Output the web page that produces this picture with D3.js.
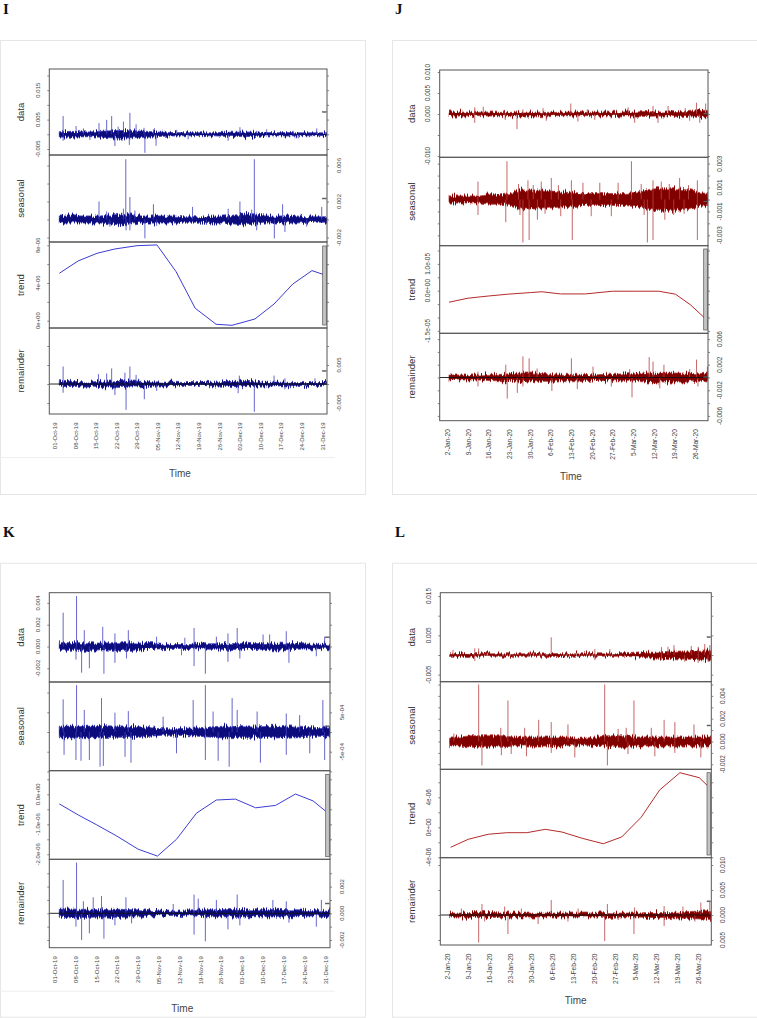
<!DOCTYPE html>
<html><head><meta charset="utf-8">
<script src="https://cdn.jsdelivr.net/npm/d3@7"></script>
<style>body{margin:0;background:#fff}svg{display:block}</style>
</head><body>
<svg id="c" width="757" height="1018"></svg>
<script>
// ---------- categories / tick labels ----------
const q4Days = [0,7,14,21,28,35,42,49,56,63,70,77,84,91];
const q4Labels = ["01-Oct-19","08-Oct-19","15-Oct-19","22-Oct-19","29-Oct-19","05-Nov-19","12-Nov-19","19-Nov-19","26-Nov-19","03-Dec-19","10-Dec-19","17-Dec-19","24-Dec-19","31-Dec-19"];
const q1Days = [0,7,14,21,28,35,42,49,56,63,70,77,84];
const q1Labels = ["2-Jan-20","9-Jan-20","16-Jan-20","23-Jan-20","30-Jan-20","6-Feb-20","13-Feb-20","20-Feb-20","27-Feb-20","5-Mar-20","12-Mar-20","19-Mar-20","26-Mar-20"];
const rowNames = ["data","seasonal","trend","remainder"];
const bandStep = 3.5; // days between band-envelope readings

// ---------- panel I (blue, Oct-Dec 2019) ----------
const iDataBand = [0.0009,0.0010,0.0009,0.0008,0.0010,0.0012,0.0013,0.0012,0.0011,0.0009,0.0007,0.0006,0.0005,0.0005,0.0005,0.0005,0.0007,0.0007,0.0008,0.0007,0.0006,0.0005,0.0006,0.0005,0.0005,0.0005,0.0005];
const iDataSpikes = [[1.3,0.0062],[5.7,0.0028],[8.2,0.002],[13.5,0.0038],[16.1,0.0049],[17.8,0.0062],[20,0.0026],[21.8,0.0043],[24,0.0073],[26.1,0.0034],[28.8,0.0022],[32,0.0017],[39.9,0.0015],[61.4,0.0024],[67.1,0.0012],[70.5,0.0017],[79.5,0.0012],[87.5,0.002],[1.3,-0.0022],[10.4,-0.0019],[18.9,-0.004],[23.8,-0.0036],[29.1,-0.0063],[32.9,-0.0039],[43.8,-0.0017],[57.4,-0.0022],[81.2,-0.0014]];
const iSeasonalBand = [0.0004,0.0004,0.0004,0.0004,0.0004,0.0005,0.0006,0.0005,0.0004,0.0004,0.0004,0.0004,0.0003,0.0003,0.0003,0.0004,0.0004,0.0005,0.0006,0.0005,0.0004,0.0004,0.0004,0.0004,0.0003,0.0003,0.0003];
const iSeasonalSpikes = [[22.6,0.0067],[66.3,0.0067],[13.5,0.002],[24,0.0025],[32,0.0017],[45.3,0.0014],[61.4,0.002],[75.9,0.0017],[89.2,0.0014],[57.4,0.0012],[16.1,0.0009],[21.8,0.0012],[25.7,0.001],[65.4,0.0011],[29.1,-0.0021],[73.1,-0.0021],[22.7,-0.0012],[76.7,-0.0014],[67.1,-0.0012],[24,-0.0012],[17.2,-0.0008],[33.1,-0.0007],[50,-0.0006],[84.1,-0.0008]];
const iTrendDays = [0,6.4,12.8,18.9,26.4,33.2,39.7,46.2,53.3,58.7,66.5,73,79.4,85.9,90.3];
const iTrendValues = [5.03e-6,6.34e-6,7.15e-6,7.61e-6,7.96e-6,8.04e-6,5.2e-6,1.32e-6,-0.38e-6,-0.49e-6,0.18e-6,1.77e-6,3.9e-6,5.31e-6,4.85e-6];
const iRemainderBand = [0.0006,0.0007,0.0006,0.0005,0.0007,0.0008,0.0009,0.0008,0.0007,0.0006,0.0005,0.0005,0.0004,0.0004,0.0004,0.0005,0.0006,0.0007,0.0007,0.0006,0.0005,0.0005,0.0005,0.0004,0.0004,0.0004,0.0004];
const iRemainderSpikes = [[1.3,0.0046],[17.8,0.0041],[24,0.0046],[22.3,0.003],[13.3,0.0026],[26.1,0.0024],[61.2,0.0022],[73,0.0022],[16.1,0.0028],[86.9,0.0015],[76.7,0.0015],[22.7,-0.0068],[66.3,-0.0073],[28.9,-0.004],[18.9,-0.0029],[33.1,-0.0018],[1.3,-0.0023],[60.8,-0.0024],[76.7,-0.0014]];
const iDataTicks = [-0.005,0,0.005,0.01,0.015,0.02], iDataTickLabels = ["-0.005","","0.005","","0.015",""];
const iSeasonalTicks = [-0.002,0,0.002,0.004,0.006], iSeasonalTickLabels = ["-0.002","","0.002","","0.006"];
const iTrendTicks = [0,2e-6,4e-6,6e-6,8e-6], iTrendTickLabels = ["0e+00","","4e-06","","8e-06"];
const iRemainderTicks = [-0.005,0,0.005,0.01], iRemainderTickLabels = ["-0.005","","0.005",""];

// ---------- panel J (red, Jan-Mar 2020) ----------
const jDataBand = [0.0005,0.0005,0.0004,0.0004,0.0005,0.0004,0.0004,0.0005,0.0005,0.0004,0.0004,0.0004,0.0005,0.0004,0.0004,0.0005,0.0004,0.0005,0.0005,0.0006,0.0005,0.0005,0.0006,0.0006,0.0008,0.0009];
const jDataSpikes = [[41.2,0.0025],[83.7,0.0027],[86.8,0.0025],[8.7,0.0016],[11.6,0.0017],[18.6,0.001],[31.8,0.0014],[46.8,0.0011],[60.6,0.0016],[69,0.0019],[74.1,0.0019],[79.9,0.0014],[25,0.0011],[23,-0.0036],[8.7,-0.0021],[19,-0.0014],[32.9,-0.0016],[43.6,-0.0018],[49.3,-0.0014],[62.8,-0.0021],[70.7,-0.0021],[81.4,-0.0016],[84.8,-0.0021]];
const jSeasonalBand = [0.0003,0.0003,0.0003,0.0003,0.0004,0.0004,0.0005,0.0008,0.0008,0.0008,0.0007,0.0006,0.0006,0.0005,0.0005,0.0005,0.0005,0.0005,0.0006,0.0008,0.0009,0.0009,0.0009,0.0008,0.0006,0.0005];
const jSeasonalSpikes = [[19.6,0.0032],[61.7,0.0032],[9.8,0.0015],[41.4,0.0016],[34.6,0.0018],[26.7,0.0016],[45.3,0.0014],[51,0.0014],[69,0.0016],[71.8,0.0015],[78,0.0018],[84,0.0016],[31.2,0.0015],[57.2,0.0014],[23.5,0.0013],[28.5,0.0012],[37,0.0012],[65,0.0013],[74.5,0.0013],[81,0.0012],[25,-0.0036],[27.1,-0.0034],[41.7,-0.0034],[67.1,-0.0036],[69,-0.0034],[84,-0.0034],[19.2,-0.0019],[29.9,-0.0017],[48.1,-0.0014],[54.9,-0.0014],[73,-0.0017],[9.8,-0.0013],[37.8,-0.0014],[24,-0.0013],[32.5,-0.0012],[66,-0.0013],[76,-0.0013],[79.5,-0.0012]];
const jTrendDays = [0,6.4,13.2,19.9,27.6,31.4,37.7,46.2,55.3,63.2,71,76.6,81.7,86.2,87.6];
const jTrendValues = [-0.43e-5,-0.28e-5,-0.2e-5,-0.13e-5,-0.07e-5,-0.04e-5,-0.12e-5,-0.12e-5,-0.02e-5,-0.02e-5,-0.02e-5,-0.13e-5,-0.53e-5,-0.99e-5,-1.16e-5];
const jRemainderBand = [0.0004,0.0004,0.0004,0.0004,0.0005,0.0005,0.0006,0.0007,0.0007,0.0006,0.0006,0.0005,0.0005,0.0005,0.0004,0.0005,0.0005,0.0006,0.0006,0.0007,0.0007,0.0007,0.0007,0.0007,0.0006,0.0007];
const jRemainderSpikes = [[25,0.0033],[41.4,0.003],[67.7,0.0032],[19.2,0.002],[83.7,0.0028],[27.1,0.003],[48.7,0.0017],[61.1,0.0013],[69,0.0025],[72.7,0.002],[87.4,0.0017],[9.8,0.0009],[29.8,0.0014],[81.4,0.0013],[19.7,-0.0033],[61.9,-0.0031],[23.1,-0.0024],[9.8,-0.0014],[34.8,-0.0021],[43.4,-0.0018],[54.9,-0.0014],[71.3,-0.0017],[84.2,-0.0014],[25,-0.0014]];
const jDataTicks = [-0.01,-0.005,0,0.005,0.01], jDataTickLabels = ["-0.010","","0.000","0.005","0.010"];
const jSeasonalTicks = [-0.003,-0.002,-0.001,0,0.001,0.002,0.003], jSeasonalTickLabels = ["-0.003","","-0.001","","0.001","","0.003"];
const jTrendTicks = [-1.5e-5,-1e-5,-0.5e-5,0,0.5e-5,1e-5,1.5e-5], jTrendTickLabels = ["-1.5e-05","","","0.0e+00","","1.0e-05",""];
const jRemainderTicks = [-0.006,-0.004,-0.002,0,0.002,0.004,0.006], jRemainderTickLabels = ["-0.006","","-0.002","","0.002","","0.006"];

// ---------- panel K (blue, Oct-Dec 2019) ----------
const kDataBand = [0.00035,0.00035,0.00035,0.00035,0.0003,0.00035,0.00035,0.00035,0.0003,0.00025,0.0002,0.00018,0.00018,0.0002,0.00025,0.00025,0.00025,0.00028,0.00028,0.00028,0.00028,0.00032,0.00028,0.00025,0.00022,0.0002,0.0002];
const kDataSpikes = [[5.8,0.00463],[1.3,0.0031],[14.6,0.0018],[45.3,0.0017],[59.8,0.0017],[76.3,0.0014],[8.4,0.0015],[23.2,0.0015],[89.2,0.0009],[18.7,0.0012],[56.7,0.0012],[68.5,0.0011],[70.7,0.0011],[32.7,0.0009],[52.8,0.0009],[42.2,0.0008],[7.5,-0.0024],[15,-0.0025],[10.1,-0.002],[49.1,-0.0025],[45.3,-0.0018],[56.7,-0.0014],[77.2,-0.0015],[18.7,-0.0015],[5.6,-0.0012],[22.6,-0.0011],[41.1,-0.0008],[86.4,-0.0009],[60.7,-0.0011]];
const kSeasonalBand = [0.00015,0.00015,0.00014,0.00015,0.00014,0.00013,0.00013,0.00014,0.00013,0.0001,0.00008,0.00008,0.00009,0.0001,0.00012,0.00014,0.00015,0.00014,0.00013,0.00013,0.00014,0.00015,0.00013,0.00012,0.00011,0.00011,0.00013];
const kSeasonalSpikes = [[5.8,0.00119],[49.1,0.00119],[1.3,0.00083],[14.2,0.00086],[45,0.00081],[58.1,0.00086],[88.6,0.00081],[23.2,0.00053],[66.5,0.00052],[8.4,0.00056],[18.7,0.00049],[59.8,0.00056],[76.3,0.00047],[51.7,0.00052],[34.9,0.00039],[80.8,0.00043],[13.7,-0.00088],[57.1,-0.00088],[5.6,-0.00071],[7.3,-0.00073],[10.1,-0.00071],[14.8,-0.00086],[24.1,-0.00078],[49.1,-0.00071],[53.4,-0.00073],[67.6,-0.00078],[89.2,-0.00071],[22.1,-0.00063],[1.6,-0.00058],[76.3,-0.00058],[39.4,-0.00054],[84.2,-0.00054]];
const kTrendDays = [0,6.4,12.6,19.3,26.5,33,39.4,46.1,52.8,59.2,66,72.7,79.4,85.3,89.5];
const kTrendValues = [-0.32e-6,-0.69e-6,-1.02e-6,-1.39e-6,-1.83e-6,-2.06e-6,-1.5e-6,-0.63e-6,-0.19e-6,-0.16e-6,-0.45e-6,-0.37e-6,0.01e-6,-0.22e-6,-0.56e-6];
const kRemainderBand = [0.0003,0.00033,0.0003,0.0003,0.00026,0.0003,0.0003,0.00026,0.00026,0.0002,0.00017,0.00017,0.00017,0.0002,0.00026,0.00026,0.00026,0.0003,0.00026,0.00026,0.00026,0.0003,0.00026,0.00026,0.0002,0.0002,0.00026];
const kRemainderSpikes = [[5.8,0.0038],[1.3,0.0025],[45.3,0.0014],[59.8,0.0014],[46.7,0.0011],[22.4,0.0012],[14.2,0.0013],[88.1,0.001],[11.4,0.0012],[52.8,0.001],[71.8,0.001],[76.3,0.0009],[8.1,0.0009],[38.3,0.0007],[7.5,-0.002],[49.1,-0.0021],[15,-0.0019],[45.3,-0.0016],[10.1,-0.0015],[5.6,-0.001],[56.7,-0.0012],[77.2,-0.0007],[18.7,-0.0009],[86.4,-0.001],[24.3,-0.00075],[60.7,-0.0009]];
const kDataTicks = [-0.002,0,0.002,0.004], kDataTickLabels = ["-0.002","0.000","0.002","0.004"];
const kSeasonalTicks = [-0.001,-5e-4,0,5e-4,0.001], kSeasonalTickLabels = ["","-5e-04","","5e-04",""];
const kTrendTicks = [-2e-6,-1.5e-6,-1e-6,-0.5e-6,0,0.5e-6], kTrendTickLabels = ["-2.0e-06","","-1.0e-06","","0.0e+00",""];
const kRemainderTicks = [-0.002,-0.001,0,0.001,0.002,0.003], kRemainderTickLabels = ["-0.002","","0.000","","0.002",""];

// ---------- panel L (red, Jan-Mar 2020) ----------
const lDataBand = [0.0003,0.0004,0.0004,0.0003,0.0003,0.0003,0.0003,0.0003,0.0003,0.0003,0.0004,0.0003,0.0003,0.0003,0.0003,0.0003,0.0003,0.0004,0.0005,0.0007,0.0008,0.0009,0.0010,0.0011,0.0012,0.0013];
const lDataSpikes = [[34,0.0045],[75.1,0.0025],[73.1,0.0021],[85.4,0.0028],[87.1,0.0025],[8.4,0.0017],[9.7,0.0017],[70.9,0.002],[80.9,0.0023],[83.2,0.0021],[48.6,0.0015],[53.6,0.0015],[26.8,0.0008],[1.1,0.0013],[8.4,-0.0015],[83.2,-0.002],[70.9,-0.0013],[78.7,-0.0017],[86.5,-0.0017],[48.6,-0.0013],[21.2,-0.0008],[58.6,-0.0008]];
const lSeasonalBand = [0.0004,0.0004,0.0005,0.0005,0.0005,0.0005,0.0004,0.0004,0.0004,0.0004,0.0004,0.0004,0.0003,0.0003,0.0004,0.0005,0.0005,0.0005,0.0004,0.0004,0.0004,0.0004,0.0004,0.0004,0.0004,0.0004];
const lSeasonalSpikes = [[9.7,0.005],[51.9,0.005],[19.5,0.0036],[61.7,0.0036],[29.8,0.0019],[34,0.0017],[39.6,0.0015],[71.8,0.0019],[75.4,0.0017],[81.8,0.0015],[17.1,0.0012],[59.1,0.0012],[67.5,0.0012],[56.4,0.0011],[1.4,0.0007],[25.1,0.0012],[10.8,-0.0021],[52.8,-0.0021],[41.9,-0.0014],[68.7,-0.0013],[84.1,-0.0014],[17.3,-0.0012],[25.7,-0.0013],[20.6,-0.0011],[34,-0.001],[59.7,-0.0011],[75.4,-0.001]];
const lTrendDays = [0.3,6.2,12.9,19.1,25.8,32,37.6,44.4,51.4,57.6,64.1,70.3,77.1,83.6,87.2];
const lTrendValues = [-2.67e-6,-1.6e-6,-0.93e-6,-0.72e-6,-0.72e-6,-0.27e-6,-0.63e-6,-1.47e-6,-2.19e-6,-1.29e-6,1.33e-6,4.97e-6,7.28e-6,6.61e-6,5.2e-6];
const lRemainderBand = [0.0004,0.0004,0.0005,0.0005,0.0005,0.0004,0.0004,0.0004,0.0004,0.0004,0.0004,0.0004,0.0004,0.0004,0.0004,0.0005,0.0004,0.0004,0.0004,0.0005,0.0005,0.0005,0.0006,0.0007,0.0008,0.0009];
const lRemainderSpikes = [[9.7,-0.0055],[51.9,-0.0052],[19.5,-0.0038],[61.7,-0.0038],[29.6,-0.0018],[71.8,-0.0022],[11.7,-0.0013],[82.1,-0.0013],[39.6,-0.0013],[56.4,-0.001],[34,0.003],[52.8,0.0022],[10.8,0.0022],[84.1,0.0025],[87.1,0.0027],[71.8,0.0018],[18.4,0.0017],[24,0.0013],[61.9,0.0015],[78.1,0.0017],[43,0.0013],[3.9,0.0013]];
const lDataTicks = [-0.005,0,0.005,0.01,0.015], lDataTickLabels = ["-0.005","","0.005","","0.015"];
const lSeasonalTicks = [-0.002,-0.001,0,0.001,0.002,0.003,0.004,0.005], lSeasonalTickLabels = ["-0.002","","0.000","","0.002","","0.004",""];
const lTrendTicks = [-4e-6,-2e-6,0,2e-6,4e-6,6e-6], lTrendTickLabels = ["-4e-06","","0e+00","","4e-06",""];
const lRemainderTicks = [-0.005,0,0.005,0.01], lRemainderTickLabels = ["0.005","0.000","0.005","0.010"];

// ---------- styles / layout ----------
const palettes = {
  blue: {band:"#0c0c7c", spike:"#4343bf", trend:"#3c3cd2"},
  red:  {band:"#800000", spike:"#b84444", trend:"#b42a2a"}
};
const panels = [
  {letter:"I", lx:3, ly:14, box:[0,40,365,454], faint:457, pal:"blue", fl:49.3, fr:327, rows:[69,155,242,328,414],
   xr:[59.3,327], xd:[0,91], days:q4Days, labels:q4Labels, labOff:-4.5, xfont:6, yfont:6, nameX:21, timeX:180, timeY:473, bar:[246,325],
   series:[
    {type:"noise", band:iDataBand, spikes:iDataSpikes, dom:[-0.00704,0.0222], ticks:iDataTicks, tl:iDataTickLabels},
    {type:"noise", band:iSeasonalBand, spikes:iSeasonalSpikes, dom:[-0.0025,0.00717], ticks:iSeasonalTicks, tl:iSeasonalTickLabels},
    {type:"trend", days:iTrendDays, values:iTrendValues, dom:[-0.775e-6,8.35e-6], ticks:iTrendTicks, tl:iTrendTickLabels},
    {type:"noise", band:iRemainderBand, spikes:iRemainderSpikes, dom:[-0.00789,0.01474], ticks:iRemainderTicks, tl:iRemainderTickLabels}]},
  {letter:"J", lx:395, ly:14, box:[392,40,380,454], faint:null, pal:"red", fl:439.7, fr:708, rows:[70,157.3,245.7,333.3,420.7],
   xr:[449,708], xd:[0,87.6], days:q1Days, labels:q1Labels, labOff:-1.5, xfont:6.6, yfont:6.4, nameX:411.3, timeX:571, timeY:476, bar:[249,330],
   series:[
    {type:"noise", band:jDataBand, spikes:jDataSpikes, dom:[-0.01031,0.01048], ticks:jDataTicks, tl:jDataTickLabels},
    {type:"noise", band:jSeasonalBand, spikes:jSeasonalSpikes, dom:[-0.00387,0.00353], ticks:jSeasonalTicks, tl:jSeasonalTickLabels},
    {type:"trend", days:jTrendDays, values:jTrendValues, dom:[-1.59e-5,1.679e-5], ticks:jTrendTicks, tl:jTrendTickLabels},
    {type:"noise", band:jRemainderBand, spikes:jRemainderSpikes, dom:[-0.00675,0.00691], ticks:jRemainderTicks, tl:jRemainderTickLabels}]},
  {letter:"K", lx:3, ly:537, box:[0,562.7,365,454], faint:990.7, pal:"blue", fl:49.3, fr:330, rows:[592.7,682,770.7,859.3,947.7],
   xr:[59.3,330], xd:[0,91], days:q4Days, labels:q4Labels, labOff:-4.5, xfont:6, yfont:6, nameX:20.7, timeX:182.3, timeY:1008.3, bar:[774.3,856.7],
   series:[
    {type:"noise", band:kDataBand, spikes:kDataSpikes, dom:[-0.003257,0.004936], ticks:kDataTicks, tl:kDataTickLabels},
    {type:"noise", band:kSeasonalBand, spikes:kSeasonalSpikes, dom:[-0.000982,0.001269], ticks:kSeasonalTicks, tl:kSeasonalTickLabels},
    {type:"trend", days:kTrendDays, values:kTrendValues, dom:[-2.167e-6,0.787e-6], ticks:kTrendTicks, tl:kTrendTickLabels},
    {type:"noise", band:kRemainderBand, spikes:kRemainderSpikes, dom:[-0.002577,0.004045], ticks:kRemainderTicks, tl:kRemainderTickLabels}]},
  {letter:"L", lx:395, ly:537, box:[392,562.7,380,454], faint:null, pal:"red", fl:440.3, fr:711.3, rows:[592.7,681.7,769.3,857.7,945],
   xr:[449.7,711.3], xd:[0,87.6], days:q1Days, labels:q1Labels, labOff:-1.7, xfont:6.6, yfont:6.4, nameX:411.3, timeX:575.7, timeY:1000, bar:[772.7,855],
   series:[
    {type:"noise", band:lDataBand, spikes:lDataSpikes, dom:[-0.00679,0.01585], ticks:lDataTicks, tl:lDataTickLabels},
    {type:"noise", band:lSeasonalBand, spikes:lSeasonalSpikes, dom:[-0.002439,0.005246], ticks:lSeasonalTicks, tl:lSeasonalTickLabels},
    {type:"trend", days:lTrendDays, values:lTrendValues, dom:[-4.053e-6,7.733e-6], ticks:lTrendTicks, tl:lTrendTickLabels},
    {type:"noise", band:lRemainderBand, spikes:lRemainderSpikes, dom:[-0.006,0.01146], ticks:lRemainderTicks, tl:lRemainderTickLabels}]}
];

const svg = d3.select("#c");
const SANS = "'Liberation Sans', Arial, sans-serif";

// texture filter: roughens band edges vertically (purely visual styling)
const defs = svg.append("defs");
const f = defs.append("filter").attr("id", "rough").attr("filterUnits", "userSpaceOnUse")
  .attr("x", 0).attr("y", 0).attr("width", 757).attr("height", 1018);
f.append("feTurbulence").attr("type", "fractalNoise").attr("baseFrequency", "0.9 0.03")
  .attr("numOctaves", 2).attr("seed", 7).attr("result", "n");
f.append("feColorMatrix").attr("in", "n").attr("type", "matrix")
  .attr("values", "0 0 0 0 0.5  0 1 0 0 0  0 0 0 0 0  0 0 0 0 1").attr("result", "m");
f.append("feDisplacementMap").attr("in", "SourceGraphic").attr("in2", "m").attr("scale", 9)
  .attr("xChannelSelector", "R").attr("yChannelSelector", "G");

panels.forEach((p, pi) => {
  const pal = palettes[p.pal];
  const g = svg.append("g");
  g.append("rect").attr("x", p.box[0] + 0.5).attr("y", p.box[1] + 0.5)
    .attr("width", p.box[2]).attr("height", p.box[3])
    .attr("fill", "none").attr("stroke", "#e6e6e6");
  if (p.faint) g.append("line").attr("x1", p.box[0]).attr("x2", p.box[0] + 335)
    .attr("y1", p.faint + 0.5).attr("y2", p.faint + 0.5).attr("stroke", "#eeeeee");
  g.append("text").attr("x", p.lx).attr("y", p.ly).text(p.letter)
    .attr("font-family", "'Liberation Serif','Times New Roman',serif").attr("font-weight", "bold")
    .attr("font-size", 15).attr("fill", "#111");

  const x = d3.scaleLinear().domain(p.xd).range(p.xr);

  p.series.forEach((s, i) => {
    const top = p.rows[i], bot = p.rows[i + 1];
    const y = d3.scaleLinear().domain(s.dom).range([bot, top]);
    const clipId = `clip${pi}_${i}`;
    g.append("clipPath").attr("id", clipId).append("rect")
      .attr("x", p.fl).attr("y", top).attr("width", p.fr - p.fl).attr("height", bot - top);
    const pg = g.append("g").attr("clip-path", `url(#${clipId})`);

    if (s.type === "noise") {
      const pts = s.band.map((a, j) => ({d: Math.min(j * bandStep, p.xd[1]), a}));
      pg.append("g").attr("filter", "url(#rough)").append("path").datum(pts)
        .attr("d", d3.area().x(d => x(d.d)).y0(d => y(-d.a)).y1(d => y(d.a)))
        .attr("fill", pal.band).attr("stroke", pal.spike).attr("stroke-width", 0.8);
      pg.append("path").datum(pts)
        .attr("d", d3.area().x(d => x(d.d)).y0(d => y(-d.a * 0.45)).y1(d => y(d.a * 0.45)))
        .attr("fill", pal.band);
      pg.selectAll("line.sp").data(s.spikes).enter().append("line")
        .attr("x1", d => x(d[0])).attr("x2", d => x(d[0]))
        .attr("y1", y(0)).attr("y2", d => y(d[1]))
        .attr("stroke", pal.spike).attr("stroke-width", 0.9).attr("opacity", 0.9);
    } else {
      const pts = s.days.map((d, j) => [d, s.values[j]]);
      pg.append("path").datum(pts)
        .attr("d", d3.line().x(d => x(d[0])).y(d => y(d[1])))
        .attr("fill", "none").attr("stroke", pal.trend).attr("stroke-width", 1);
    }
    if (i === 3) {
      g.append("line").attr("x1", p.fl).attr("x2", p.fr).attr("y1", y(0)).attr("y2", y(0))
        .attr("stroke", "#111").attr("stroke-width", 0.9);
    }
    if (i === 2) {
      g.append("rect").attr("x", p.fr - 4.3).attr("y", p.bar[0]).attr("width", 3.6)
        .attr("height", p.bar[1] - p.bar[0]).attr("fill", "#c4c4c4").attr("stroke", "#555").attr("stroke-width", 0.7);
    } else {
      const mid = (top + bot) / 2;
      g.append("rect").attr("x", p.fr - 4.3).attr("y", mid - 0.5).attr("width", 3.6).attr("height", 1)
        .attr("fill", "#777").attr("stroke", "#444").attr("stroke-width", 0.4);
    }
    g.append("rect").attr("x", p.fl).attr("y", top).attr("width", p.fr - p.fl).attr("height", bot - top)
      .attr("fill", "none").attr("stroke", "#555").attr("stroke-width", 1);
    const ax1 = g.append("g").attr("transform", `translate(${p.fl},0)`)
      .call(d3.axisLeft(y).tickValues(s.ticks).tickSize(2).tickFormat(""));
    const ax2 = g.append("g").attr("transform", `translate(${p.fr},0)`)
      .call(d3.axisRight(y).tickValues(s.ticks).tickSize(2).tickFormat(""));
    [ax1, ax2].forEach(a => { a.select(".domain").remove(); a.selectAll("line").attr("stroke", "#666").attr("stroke-width", 0.8); });
    const lx = (i % 2 === 0) ? p.fl - 11.5 : p.fr + 11.5;
    s.ticks.forEach((v, j) => {
      if (!s.tl[j]) return;
      g.append("text").attr("transform", `translate(${lx},${y(v)}) rotate(-90)`)
        .attr("text-anchor", "middle").attr("dy", "0.35em").text(s.tl[j])
        .attr("font-family", SANS).attr("font-size", p.yfont).attr("fill", "#444");
    });
    g.append("text").attr("transform", `translate(${p.nameX},${(top + bot) / 2}) rotate(-90)`)
      .attr("text-anchor", "middle").attr("dy", "0.35em").text(rowNames[i])
      .attr("font-family", SANS).attr("font-size", 9.6).attr("fill", "#333");
  });

  const bottom = p.rows[4];
  p.days.forEach((d, j) => {
    g.append("text").attr("transform", `translate(${x(d) + p.labOff},${bottom + 8.5}) rotate(-90)`)
      .attr("text-anchor", "end").attr("dy", "0.35em").text(p.labels[j])
      .attr("font-family", SANS).attr("font-size", p.xfont).attr("fill", "#444");
  });
  g.append("text").attr("x", p.timeX).attr("y", p.timeY).attr("text-anchor", "middle").attr("dy", "0.35em")
    .text("Time").attr("font-family", SANS).attr("font-size", 10).attr("fill", "#444");
});
</script>
</body></html>
